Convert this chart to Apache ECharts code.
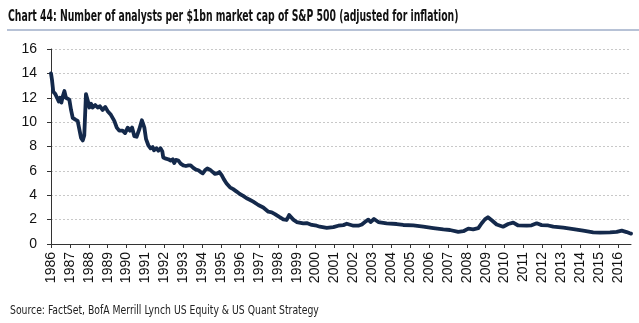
<!DOCTYPE html>
<html>
<head>
<meta charset="utf-8">
<script src="https://cdn.jsdelivr.net/npm/echarts@6/dist/echarts.min.js"></script>
<style>
html,body{margin:0;padding:0;background:#fff;}
#chart{width:639px;height:323px;}
</style>
</head>
<body>
<div id="chart"></div>
<script>
// Decimal-year positions of the readings
var dates = [
  1986.00,1986.05,1986.12,1986.23,1986.32,1986.41,1986.48,1986.55,1986.62,1986.71,1986.79,1986.88,1986.97,
  1987.06,1987.15,1987.29,1987.41,1987.50,1987.59,1987.68,1987.76,1987.85,1987.94,
  1988.03,1988.12,1988.20,1988.34,1988.47,1988.59,1988.73,1988.87,
  1989.00,1989.17,1989.35,1989.48,1989.61,1989.79,1989.92,
  1990.06,1990.18,1990.29,1990.41,1990.53,1990.67,1990.81,1990.94,
  1991.03,1991.15,1991.27,1991.38,1991.45,1991.59,1991.68,1991.80,1991.89,1991.94,
  1992.08,1992.21,1992.33,1992.44,1992.52,1992.61,1992.74,1992.86,
  1993.00,1993.14,1993.27,1993.39,1993.53,1993.67,1993.80,1993.92,
  1994.03,1994.15,1994.27,1994.41,1994.56,1994.68,1994.80,1994.91,
  1995.03,1995.15,1995.29,1995.47,1995.64,1995.82,1995.99,
  1996.17,1996.35,1996.49,1996.70,1996.97,
  1997.06,1997.23,1997.50,1997.68,1997.85,1997.94,
  1998.10,1998.29,1998.47,1998.60,1998.82,
  1999.00,1999.35,1999.53,1999.80,
  2000.06,2000.23,2000.59,2000.94,
  2001.20,2001.47,2001.65,
  2002.00,2002.26,2002.45,2002.61,2002.79,2002.91,
  2003.09,2003.32,2003.76,
  2004.29,2004.64,
  2005.17,2005.70,
  2006.23,2006.76,
  2007.11,2007.55,2007.82,
  2008.08,2008.34,2008.61,2008.79,2008.96,
  2009.12,2009.32,2009.58,2009.92,
  2010.19,2010.46,2010.72,
  2011.17,2011.43,2011.70,2011.96,
  2012.31,2012.58,
  2013.11,2013.64,
  2014.16,2014.69,
  2015.05,2015.58,2015.93,
  2016.20,2016.46,2016.63,2016.69
];
// Analysts per $1bn market cap
var analysts = [
  14.0,13.5,12.5,12.3,12.0,11.7,12.0,11.6,12.1,12.55,12.0,12.1,11.85,
  11.0,10.35,10.2,10.1,9.4,8.7,8.5,8.9,12.3,11.8,
  11.2,11.5,11.2,11.4,11.2,11.3,11.0,11.25,
  10.9,10.6,10.1,9.55,9.3,9.3,9.1,
  9.55,9.3,9.55,8.85,8.8,9.4,10.15,9.55,
  8.6,8.1,7.85,7.95,7.7,7.85,7.65,7.85,7.6,7.1,
  7.0,6.95,6.85,6.95,6.65,6.9,6.85,6.6,
  6.45,6.4,6.45,6.45,6.25,6.1,6.05,5.9,
  5.8,6.05,6.2,6.1,5.9,5.75,5.8,5.9,
  5.65,5.3,4.97,4.65,4.5,4.3,4.1,
  3.95,3.75,3.65,3.47,3.2,
  3.05,3.0,2.65,2.6,2.45,2.38,
  2.2,2.02,1.97,2.38,2.0,
  1.8,1.7,1.72,1.56,
  1.5,1.42,1.33,1.38,
  1.5,1.55,1.66,
  1.5,1.5,1.6,1.8,2.0,1.8,
  2.05,1.8,1.7,
  1.64,1.56,
  1.52,1.42,
  1.31,1.2,
  1.15,1.0,1.05,
  1.26,1.2,1.3,1.7,2.02,
  2.2,1.95,1.6,1.42,
  1.64,1.75,1.52,
  1.5,1.53,1.7,1.55,
  1.52,1.42,
  1.34,1.23,
  1.1,0.96,
  0.93,0.96,1.0,
  1.1,0.98,0.88,0.85
];
var yearTicks = [1986,1987,1988,1989,1990,1991,1992,1993,1994,1995,1996,1997,1998,1999,2000,
  2001,2002,2003,2004,2005,2006,2007,2008,2009,2010,2011,2012,2013,2014,2015,2016];
var titleText = 'Chart 44: Number of analysts per $1bn market cap of S&P 500 (adjusted for inflation)';
var sourceText = 'Source: FactSet, BofA Merrill Lynch US Equity & US Quant Strategy';

var seriesData = dates.map(function (d, i) { return [d, analysts[i]]; });

var chart = echarts.init(document.getElementById('chart'), null, {renderer: 'canvas'});
chart.setOption({
  animation: false,
  backgroundColor: '#fff',
  grid: {left: 51, right: 8, top: 49, bottom: 79, containLabel: false},
  xAxis: {
    type: 'value',
    min: 1986,
    max: 2016.69,
    interval: 1,
    splitLine: {show: false},
    axisLine: {show: true, lineStyle: {color: '#333', width: 1}},
    axisTick: {show: true, customValues: yearTicks, length: 4, lineStyle: {color: '#333'}},
    axisLabel: {
      customValues: yearTicks,
      rotate: 90,
      margin: 8,
      fontFamily: "'Liberation Sans', Arial, sans-serif",
      fontSize: 14,
      color: '#111',
      formatter: function (v) { return String(v); }
    }
  },
  yAxis: {
    type: 'value',
    min: 0,
    max: 16,
    interval: 2,
    axisLine: {show: true, lineStyle: {color: '#333', width: 1}},
    axisTick: {show: true, length: 4, lineStyle: {color: '#333'}},
    axisLabel: {
      margin: 14,
      fontFamily: "'Liberation Sans', Arial, sans-serif",
      fontSize: 14,
      color: '#111'
    },
    splitLine: {show: true, lineStyle: {color: '#c8c8c8', type: [2, 2], width: 1}}
  },
  series: [{
    type: 'line',
    data: seriesData,
    showSymbol: false,
    symbol: 'none',
    smooth: false,
    lineStyle: {color: '#14294b', width: 3.8, join: 'round', cap: 'round'},
    z: 5
  }],
  graphic: [
    {
      type: 'text', x: 8, y: 9, scaleX: 0.646,
      style: {
        text: titleText, x: 0, y: 0, align: 'left', verticalAlign: 'top',
        fontFamily: "'Liberation Sans Narrow', 'DejaVu Sans Condensed', sans-serif",
        fontWeight: 'bold', fontSize: 16, fill: '#111'
      }
    },
    {
      type: 'line', shape: {x1: 7, y1: 30, x2: 639, y2: 30},
      style: {stroke: '#b7c2d6', lineWidth: 2}
    },
    {
      type: 'text', x: 10, y: 305, scaleX: 0.86,
      style: {
        text: sourceText, x: 0, y: 0, align: 'left', verticalAlign: 'top',
        fontFamily: "'Liberation Sans Narrow', 'DejaVu Sans Condensed', sans-serif",
        fontSize: 12, fill: '#222'
      }
    }
  ]
});
</script>
</body>
</html>
